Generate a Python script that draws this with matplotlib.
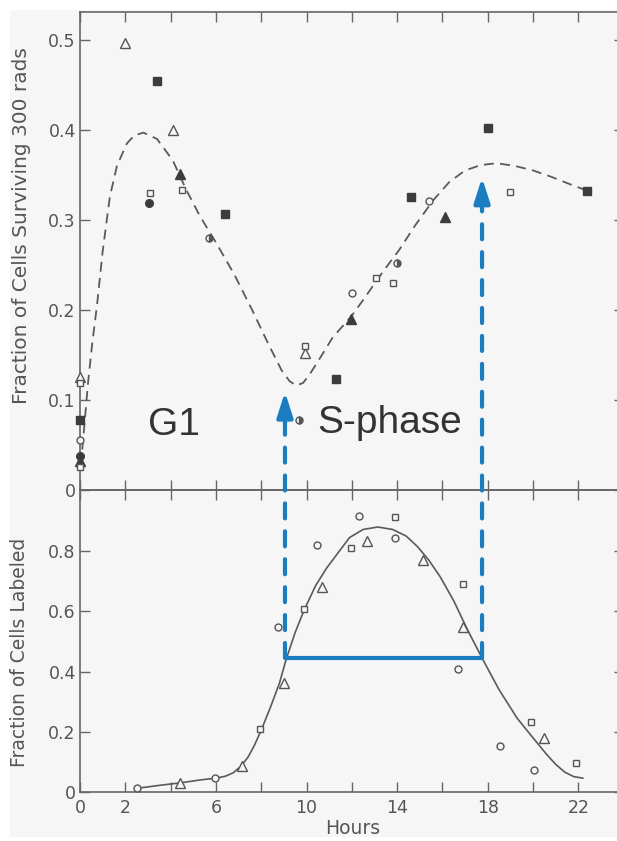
import matplotlib
matplotlib.use("Agg")
import matplotlib.pyplot as plt
from matplotlib.patches import Rectangle, ConnectionPatch

# ---- data ----
# top panel: fraction of cells surviving 300 rads
surv_open_tri_x = [0.0, 2.0, 4.1, 9.95]
surv_open_tri_y = [0.126, 0.497, 0.400, 0.152]
surv_fill_tri_x = [0.0, 4.4, 11.95, 16.1]
surv_fill_tri_y = [0.032, 0.351, 0.190, 0.303]
surv_open_sq_x = [0.0, 0.0, 3.1, 4.5, 9.95, 13.05, 13.8, 19.0]
surv_open_sq_y = [0.119, 0.025, 0.330, 0.333, 0.160, 0.236, 0.230, 0.331]
surv_fill_sq_x = [0.0, 3.4, 6.4, 11.3, 14.6, 18.0, 22.4]
surv_fill_sq_y = [0.078, 0.454, 0.307, 0.123, 0.325, 0.402, 0.332]
surv_open_circ_x = [0.0, 12.0, 15.4]
surv_open_circ_y = [0.056, 0.219, 0.321]
surv_fill_circ_x = [0.0, 3.05]
surv_fill_circ_y = [0.038, 0.319]
surv_half_circ_x = [5.7, 9.65, 14.0]
surv_half_circ_y = [0.280, 0.078, 0.252]

# hand drawn dashed fit (top)
surv_fit_x = [0.1, 0.35, 0.55, 0.75, 1.0, 1.32, 1.63, 2.07, 2.4, 2.8, 3.4, 4.1,
              4.7, 5.3, 6.0, 6.8, 7.6, 8.3, 8.9, 9.25, 9.55, 9.85, 10.1, 10.46,
              11.17, 11.95, 12.5, 13.33, 14.1, 14.8, 15.6, 16.3, 17.0, 17.7,
              18.4, 19.2, 20.0, 20.8, 21.6, 22.45]
surv_fit_y = [0.045, 0.118, 0.165, 0.205, 0.265, 0.326, 0.360, 0.385, 0.394, 0.397,
              0.390, 0.366, 0.333, 0.304, 0.275, 0.240, 0.200, 0.163, 0.133,
              0.121, 0.116, 0.119, 0.127, 0.141, 0.170, 0.192, 0.211, 0.241,
              0.267, 0.294, 0.322, 0.342, 0.355, 0.361, 0.363, 0.360, 0.355,
              0.348, 0.340, 0.332]

# bottom panel: fraction of cells labeled
lab_circ_x = [2.5, 5.95, 8.75, 10.45, 12.3, 13.9, 16.7, 18.55, 20.05]
lab_circ_y = [0.013, 0.046, 0.548, 0.820, 0.917, 0.845, 0.410, 0.153, 0.073]
lab_tri_x = [4.4, 7.15, 9.0, 10.7, 12.65, 15.15, 16.9, 20.5]
lab_tri_y = [0.030, 0.086, 0.362, 0.680, 0.835, 0.770, 0.548, 0.180]
lab_sq_x = [7.95, 9.9, 11.95, 13.9, 16.9, 19.9, 21.9]
lab_sq_y = [0.209, 0.608, 0.810, 0.914, 0.690, 0.232, 0.096]

lab_fit_x = [2.5, 3.5, 4.5, 5.3, 6.0, 6.4, 6.75, 7.1, 7.42, 7.7, 8.0, 8.4, 8.8,
             9.1, 9.5, 9.9, 10.4, 10.9, 11.4, 11.9, 12.5, 13.15, 13.8, 14.4,
             14.9, 15.4, 15.9, 16.5, 17.1, 17.75, 18.5, 19.3, 20.0, 20.6,
             21.0, 21.4, 21.8, 22.2]
lab_fit_y = [0.012, 0.022, 0.031, 0.040, 0.046, 0.052, 0.063, 0.085, 0.116,
             0.155, 0.205, 0.280, 0.360, 0.440, 0.530, 0.605, 0.685, 0.745,
             0.795, 0.845, 0.872, 0.880, 0.872, 0.850, 0.815, 0.770, 0.715,
             0.635, 0.540, 0.445, 0.340, 0.245, 0.180, 0.125, 0.092, 0.066,
             0.051, 0.046]

# S-phase markers (hours, half-labeled level)
s_start = 9.05
s_end = 17.75
half_level = 0.445
s_start_top = 0.109
s_end_top = 0.347

hour_ticks = list(range(0, 24, 2))
hour_labels = ['0', '2', '', '6', '', '10', '', '14', '', '18', '', '22']
surv_ticks = [0, 0.1, 0.2, 0.3, 0.4, 0.5]
surv_labels = ['0', '0.1', '0.2', '0.3', '0.4', '0.5']
lab_ticks = [0, 0.2, 0.4, 0.6, 0.8]
lab_labels = ['0', '0.2', '0.4', '0.6', '0.8']

W, H = 617, 841
gray = '#555555'
dark = '#3c3c3c'
blue = '#1a7cc1'

fig = plt.figure(figsize=(W / 100, H / 100), dpi=100)
fig.patch.set_facecolor('white')
fig.patches.append(Rectangle((10 / W, 4 / H), (W - 10) / W, (H - 14) / H,
                             transform=fig.transFigure, facecolor='#f6f6f6',
                             edgecolor='none', zorder=-10))

def px_axes(left, top, right, bottom):
    return [left / W, 1 - bottom / H, (right - left) / W, (bottom - top) / H]

ax1 = fig.add_axes(px_axes(80, 12, 623.6, 490))
ax2 = fig.add_axes(px_axes(80, 490, 623.6, 792))

for ax in (ax1, ax2):
    ax.set_facecolor('none')
    ax.set_xlim(0, 24)
    ax.spines['right'].set_visible(False)
    for sp in ('left', 'top', 'bottom'):
        ax.spines[sp].set_color('#666666')
        ax.spines[sp].set_linewidth(1.2)
    ax.tick_params(direction='in', length=7, width=1.0, color='#666666',
                   top=True, right=True, labelcolor=gray, labelsize=12.5, pad=3)
    ax.set_xticks(hour_ticks)

# top panel
ax1.set_ylim(0, 0.531)
ax1.set_yticks(surv_ticks)
ax1.set_yticklabels(surv_labels)
ax1.tick_params(axis='x', labelbottom=False)
ax1.plot(surv_fit_x, surv_fit_y, color='#5a5a5a', lw=1.3,
         linestyle=(0, (5.5, 3.5)), zorder=2)

mk = dict(linestyle='none', clip_on=False, zorder=3, markeredgewidth=1.0)
ax1.plot(surv_open_tri_x, surv_open_tri_y, marker='^', ms=6.5, mfc='#f6f6f6', mec=gray, **mk)
ax1.plot(surv_fill_tri_x, surv_fill_tri_y, marker='^', ms=6.5, mfc=dark, mec=dark, **mk)
ax1.plot(surv_open_sq_x, surv_open_sq_y, marker='s', ms=5, mfc='#f6f6f6', mec=gray, **mk)
ax1.plot(surv_fill_sq_x, surv_fill_sq_y, marker='s', ms=5.5, mfc=dark, mec=dark, **mk)
ax1.plot(surv_open_circ_x, surv_open_circ_y, marker='o', ms=5, mfc='#f6f6f6', mec=gray, **mk)
ax1.plot(surv_fill_circ_x, surv_fill_circ_y, marker='o', ms=5.5, mfc=dark, mec=dark, **mk)
ax1.plot(surv_half_circ_x, surv_half_circ_y, marker='o', ms=5, fillstyle='right',
         mfc=gray, mfcalt='#f6f6f6', mec=gray, **mk)

ax1.text(3.0, 0.061, 'G1', fontsize=28, family='Liberation Sans', color='#333333',
         ha='left', va='baseline')
ax1.text(10.46, 0.063, 'S-phase', fontsize=28, family='Liberation Sans',
         color='#333333', ha='left', va='baseline')

# bottom panel
ax2.set_ylim(0, 1.003)
ax2.set_yticks(lab_ticks)
ax2.set_yticklabels(lab_labels)
ax2.set_xticklabels(hour_labels)
ax2.tick_params(axis='x', pad=5)
ax2.plot(lab_fit_x, lab_fit_y, color='#5a5a5a', lw=1.2, zorder=2)
ax2.plot(lab_circ_x, lab_circ_y, marker='o', ms=5, mfc='#f6f6f6', mec=gray, **mk)
ax2.plot(lab_tri_x, lab_tri_y, marker='^', ms=6.5, mfc='#f6f6f6', mec=gray, **mk)
ax2.plot(lab_sq_x, lab_sq_y, marker='s', ms=5, mfc='#f6f6f6', mec=gray, **mk)

# S-phase bracket and arrows
ax2.plot([s_start, s_end], [half_level, half_level], color=blue, lw=3,
         solid_capstyle='butt', zorder=4)
for xs, ytop in ((s_start, s_start_top), (s_end, s_end_top)):
    con = ConnectionPatch(xyA=(xs, half_level), coordsA=ax2.transData,
                          xyB=(xs, ytop - 0.025), coordsB=ax1.transData,
                          color=blue, lw=3, linestyle=(0, (3.6, 3.1)), zorder=4)
    fig.add_artist(con)
    ax1.annotate('', xy=(xs, ytop), xytext=(xs, ytop - 0.035),
                 arrowprops=dict(arrowstyle='-|>,head_length=15,head_width=4.8',
                                 mutation_scale=1, color=blue, lw=3,
                                 shrinkA=0, shrinkB=0), zorder=5)

# axis labels
fig.text(22 / W, 1 - 226 / H, 'Fraction of Cells Surviving 300 rads', rotation=90,
         ha='center', va='center', fontsize=14.5, color=gray)
fig.text(20 / W, 1 - 652 / H, 'Fraction of Cells Labeled', rotation=90,
         ha='center', va='center', fontsize=13.5, color=gray)
fig.text(353 / W, 1 - 829 / H, 'Hours', ha='center', va='center', fontsize=13.5,
         color=gray)

fig.savefig('out.png', dpi=100, facecolor=fig.get_facecolor())
